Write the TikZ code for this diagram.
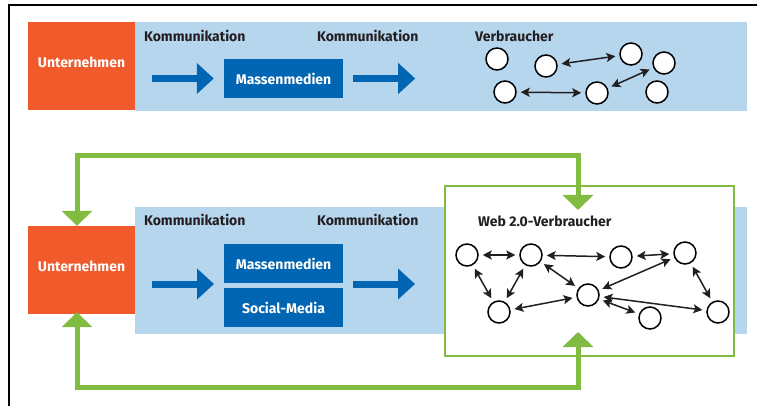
\documentclass[tikz,border=0pt]{standalone}
\usepackage{fontspec}
\setmainfont{Fira Sans}
\usetikzlibrary{arrows.meta,positioning}
\definecolor{firmorange}{HTML}{F15A2B}
\definecolor{bandblue}{HTML}{B6D6EE}
\definecolor{mediablue}{HTML}{0066B3}
\definecolor{webgreen}{HTML}{80BC42}
\definecolor{textgray}{HTML}{231F20}
\begin{document}
\begin{tikzpicture}[x=1pt,y=-1pt,
  heading/.style={font=\bfseries\fontsize{14}{16}\selectfont,text=textgray,anchor=west,inner sep=0pt},
  firm/.style={fill=firmorange,text=white,font=\bfseries\fontsize{14}{16}\selectfont,
    minimum width=107pt,minimum height=88pt,inner sep=0pt,text depth=8pt},
  media/.style={fill=mediablue,text=white,font=\bfseries\fontsize{14}{16}\selectfont,
    minimum width=119pt,minimum height=39pt,inner sep=0pt},
  band/.style={fill=bandblue,minimum width=612pt,inner sep=0pt},
  user/.style={circle,draw=black,line width=1.5pt,fill=white,minimum size=22pt,inner sep=0pt},
  link/.style={{Stealth[length=9pt,width=9pt,inset=2pt]}-{Stealth[length=9pt,width=9pt,inset=2pt]},
    line width=1.5pt,draw=textgray,shorten <=4pt,shorten >=4pt},
  flow/.style={-{Triangle[length=17pt,width=30pt]},line width=7pt,mediablue},
  feedback/.style={{Triangle[length=15pt,width=30pt]}-{Triangle[length=15pt,width=30pt]},
    line width=5pt,webgreen}]
\useasboundingbox (0,0) rectangle (757,406);
% Frame
\draw[line width=2pt] (9,406) -- (9,5) -- (757,5);

% Top row: classic communication
\node[band,minimum height=89pt] (band1) at (441,66.5) {};
\node[firm] (firm1) at (81.5,66.5) {Unternehmen};
\node[heading] (kom1) at (144,36) {Kommunikation};
\node[heading] (kom2) at (317,36) {Kommunikation};
\node[heading] (verb) at (475,36) {Verbraucher};
\node[media] (mm1) at (283.5,78.5) {Massenmedien};
\draw[flow] ([xshift=-72pt]mm1.west) -- ([xshift=-10pt]mm1.west);
\draw[flow] ([xshift=10pt]mm1.east) -- ([xshift=72pt]mm1.east);
\foreach \n/\x/\y in {v1/497/59,v2/546/66,v3/631/54,v4/664/63,
                      v5/505/92,v6/597/93,v7/657/92}
  \node[user] (\n) at (\x,\y) {};
\foreach \a/\b in {v2/v3,v5/v6,v6/v4}
  \draw[link] (\a) -- (\b);

% Bottom row: Web 2.0
\node[band,minimum height=127pt] (band2) at (441,270.5) {};
\node[firm] (firm2) at (81.5,270) {Unternehmen};
\node[heading] (kom3) at (144,220) {Kommunikation};
\node[heading] (kom4) at (317,220) {Kommunikation};
\node[media] (mm2) at (283.5,263.5) {Massenmedien};
\node[media] (sm) at (283.5,307.5) {Social-Media};
\coordinate (mid) at (283.5,284);
\draw[flow] ([xshift=-131.5pt]mid) -- ([xshift=-69.5pt]mid);
\draw[flow] ([xshift=69.5pt]mid) -- ([xshift=131.5pt]mid);
\node[draw=webgreen,line width=2pt,fill=white,minimum width=289pt,minimum height=170pt,
  inner sep=0pt] (web) at (589.5,271) {};
\node[heading] (webverb) at (478,221) {Web 2.0-Verbraucher};
\foreach \n/\x/\y in {n1/467/255,n2/531/255,n3/621/257,n4/685/253,
                      n5/588/295,n6/499/312,n7/650/318,n8/718/312}
  \node[user] (\n) at (\x,\y) {};
\foreach \a/\b in {n1/n2,n2/n3,n3/n4,n1/n6,n2/n6,n2/n5,n6/n5,n5/n4,n5/n8,n5/n7,n4/n8}
  \draw[link] (\a) -- (\b);

% Feedback loops
\coordinate (webin) at (578,210);
\coordinate (webout) at (578,332);
\draw[feedback] (webin) -- (webin |- 0,156) -| ([xshift=-4.5pt]firm2.north);
\draw[feedback] ([xshift=-4.5pt,yshift=2pt]firm2.south) |- (webout |- 0,387) -- (webout);
\end{tikzpicture}
\end{document}
